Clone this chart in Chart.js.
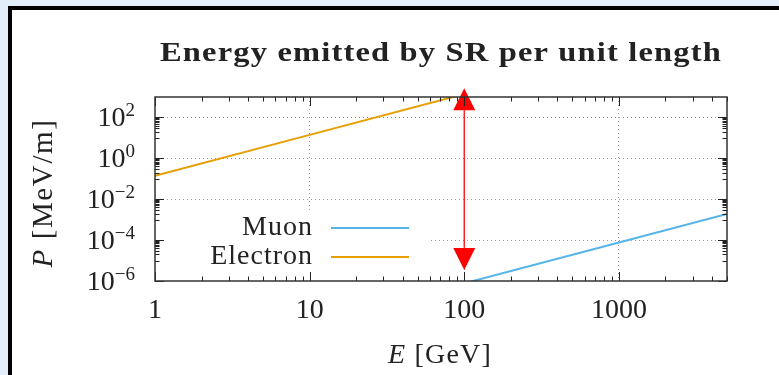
<!DOCTYPE html>
<html>
<head>
<meta charset="utf-8">
<script src="https://cdn.jsdelivr.net/npm/chart.js@4.4.1/dist/chart.umd.min.js"></script>
<style>
  html, body { margin: 0; padding: 0; background: #e2eef9; overflow: hidden; }
  #frame { position: absolute; left: 8px; top: 6px; width: 820px; height: 420px; border: 4px solid #000; background: #fff; }
  #wrap { position: absolute; left: 0; top: 0; width: 779px; height: 375px; }
</style>
</head>
<body>
<div id="frame"></div>
<div id="wrap"><canvas id="chart-sr"></canvas></div>
<script>
// beam energy in GeV, radiated power per unit length in MeV/m
const muonE = [100, 1000, 5000];
const muonP = [7.7e-7, 7.7e-5, 1.9e-3];
const electronE = [1, 10, 100];
const electronP = [0.14, 14, 1400];

const xTicks = [1, 10, 100, 1000];
const xTickLabels = ["1", "10", "100", "1000"];
const yTicks = [1e-6, 1e-4, 1e-2, 1, 1e2];
const yTickLabels = [["10", "\u22126"], ["10", "\u22124"], ["10", "\u22122"], ["10", "0"], ["10", "2"]];

// vertical double arrow at E = 100 GeV
const arrowE = 100;
const arrowTop = 2700;
const arrowBottom = 3.5e-6;

const muonColor = "#56b4e9";
const electronColor = "#e69f00";
const ink = "#222";
const gridColor = "#9a9a9a";
const serif = '"Liberation Serif", "Times New Roman", serif';

function toPoints(xs, ys) {
  return xs.map((v, i) => ({ x: v, y: ys[i] }));
}

function drawParts(ctx, parts, cx, cy) {
  let w = 0;
  parts.forEach(p => { ctx.font = p[1]; w += ctx.measureText(p[0]).width; });
  let xx = cx - w / 2;
  parts.forEach(p => {
    ctx.font = p[1];
    ctx.fillText(p[0], xx, cy);
    xx += ctx.measureText(p[0]).width;
  });
}

const decorPlugin = {
  id: "srDecor",
  afterDatasetsDraw(chart) {
    const { ctx, chartArea: a, scales: { x, y } } = chart;
    ctx.save();

    // opaque key box in the lower left corner
    ctx.fillStyle = "#fff";
    ctx.fillRect(a.left + 1, 213, 427 - a.left, a.bottom - 214);

    const rows = [228, 257];
    ctx.letterSpacing = "1px";
    chart.data.datasets.forEach((ds, i) => {
      ctx.fillStyle = ink;
      ctx.font = "28px " + serif;
      ctx.textAlign = "right";
      ctx.textBaseline = "middle";
      ctx.fillText(ds.label, 313, rows[i]);
      ctx.strokeStyle = ds.borderColor;
      ctx.lineWidth = 2;
      ctx.beginPath();
      ctx.moveTo(331, rows[i]);
      ctx.lineTo(409, rows[i]);
      ctx.stroke();
    });
    ctx.letterSpacing = "0px";

    // arrow
    const ax = x.getPixelForValue(arrowE);
    const top = y.getPixelForValue(arrowTop);
    const bot = y.getPixelForValue(arrowBottom);
    const head = 22, half = 11;
    ctx.strokeStyle = "#f22";
    ctx.lineWidth = 1.5;
    ctx.beginPath();
    ctx.moveTo(ax, top + head);
    ctx.lineTo(ax, bot - head);
    ctx.stroke();
    ctx.fillStyle = "#f00";
    ctx.beginPath();
    ctx.moveTo(ax, top);
    ctx.lineTo(ax - half, top + head);
    ctx.lineTo(ax + half, top + head);
    ctx.closePath();
    ctx.fill();
    ctx.beginPath();
    ctx.moveTo(ax, bot);
    ctx.lineTo(ax - half, bot - head);
    ctx.lineTo(ax + half, bot - head);
    ctx.closePath();
    ctx.fill();
    ctx.restore();
  },
  afterDraw(chart) {
    const { ctx, chartArea: a, scales: { x, y } } = chart;
    ctx.save();

    // tick marks on all four sides, pointing inward
    ctx.strokeStyle = ink;
    ctx.lineWidth = 1;
    const major = 9, minor = 4.5;
    ctx.beginPath();
    for (let d = 1; d <= 1000; d *= 10) {
      for (let m = 1; m <= 9; m++) {
        const v = d * m;
        if (v > x.max) break;
        const px = Math.round(x.getPixelForValue(v)) + 0.5;
        const len = m === 1 ? major : minor;
        ctx.moveTo(px, a.bottom); ctx.lineTo(px, a.bottom - len);
        ctx.moveTo(px, a.top); ctx.lineTo(px, a.top + len);
      }
    }
    yTicks.forEach(t => {
      for (let m = 1; m <= 9; m++) {
        const v = t / 10 * m;
        if (v < y.min || v > y.max) continue;
        const py = Math.round(y.getPixelForValue(v)) + 0.5;
        ctx.moveTo(a.left, py); ctx.lineTo(a.left + minor, py);
        ctx.moveTo(a.right, py); ctx.lineTo(a.right - minor, py);
      }
      const py = Math.round(y.getPixelForValue(t)) + 0.5;
      ctx.moveTo(a.left, py); ctx.lineTo(a.left + major, py);
      ctx.moveTo(a.right, py); ctx.lineTo(a.right - major, py);
    });
    ctx.stroke();

    // plot frame
    ctx.strokeStyle = "#333";
    ctx.lineWidth = 1.5;
    ctx.strokeRect(a.left, a.top, a.right - a.left, a.bottom - a.top);

    // y tick labels with raised exponents
    ctx.fillStyle = ink;
    ctx.textAlign = "right";
    ctx.textBaseline = "alphabetic";
    yTicks.forEach((t, i) => {
      const py = y.getPixelForValue(t);
      const [base, exp] = yTickLabels[i];
      const right = a.left - 20;
      ctx.font = "19px " + serif;
      ctx.fillText(exp, right, py - 1);
      const ew = ctx.measureText(exp).width;
      ctx.font = "28px " + serif;
      ctx.fillText(base, right - ew, py + 9);
    });

    // axis titles
    ctx.textAlign = "left";
    ctx.textBaseline = "middle";
    ctx.letterSpacing = "1.2px";
    drawParts(ctx, [["E", "italic 28px " + serif], [" [GeV]", "28px " + serif]], 440, 356);
    ctx.save();
    ctx.translate(44, (a.top + a.bottom) / 2 + 4);
    ctx.rotate(-Math.PI / 2);
    ctx.letterSpacing = "1.6px";
    drawParts(ctx, [["P", "italic 29px " + serif], [" [MeV/m]", "29px " + serif]], 0, 0);
    ctx.restore();

    // main title, stretched to the width of the heading
    const title = "Energy emitted by SR per unit length";
    ctx.font = "bold 28px " + serif;
    ctx.letterSpacing = "1px";
    ctx.textAlign = "center";
    ctx.textBaseline = "alphabetic";
    const w0 = ctx.measureText(title).width;
    ctx.translate((a.left + a.right) / 2, 61);
    ctx.scale(562 / w0, 1);
    ctx.fillText(title, 0, 0);
    ctx.restore();
  }
};

new Chart(document.getElementById("chart-sr"), {
  type: "line",
  data: {
    datasets: [
      {
        label: "Muon",
        data: toPoints(muonE, muonP),
        borderColor: muonColor,
        backgroundColor: muonColor,
        borderWidth: 2,
        pointRadius: 0,
        tension: 0,
      },
      {
        label: "Electron",
        data: toPoints(electronE, electronP),
        borderColor: electronColor,
        backgroundColor: electronColor,
        borderWidth: 2,
        pointRadius: 0,
        tension: 0,
      },
    ],
  },
  options: {
    responsive: true,
    maintainAspectRatio: false,
    animation: false,
    layout: { padding: { top: 97, right: 52, left: 0, bottom: 0 } },
    plugins: {
      legend: { display: false },
      title: { display: false },
      tooltip: { enabled: false },
    },
    scales: {
      x: {
        type: "logarithmic",
        min: 1,
        max: 5000,
        afterBuildTicks: s => { s.ticks = xTicks.map(v => ({ value: v })); },
        afterFit: s => { s.height = 94; },
        border: { display: false, dash: [1, 3] },
        grid: {
          drawTicks: false,
          color: c => (c.tick && c.tick.value > 1 ? gridColor : "rgba(0,0,0,0)"),
          lineWidth: 1,
        },
        ticks: {
          autoSkip: false,
          maxRotation: 0,
          padding: 13,
          color: ink,
          font: { family: serif, size: 28 },
          callback: (v, i) => xTickLabels[i],
        },
      },
      y: {
        type: "logarithmic",
        min: 1e-6,
        max: 1e3,
        afterBuildTicks: s => { s.ticks = yTicks.map(v => ({ value: v })); },
        afterFit: s => { s.width = 155; },
        border: { display: false, dash: [1, 3] },
        grid: {
          drawTicks: false,
          color: c => (c.tick && c.tick.value > 1e-6 ? gridColor : "rgba(0,0,0,0)"),
          lineWidth: 1,
        },
        ticks: { display: false },
      },
    },
  },
  plugins: [decorPlugin],
});
</script>
</body>
</html>
